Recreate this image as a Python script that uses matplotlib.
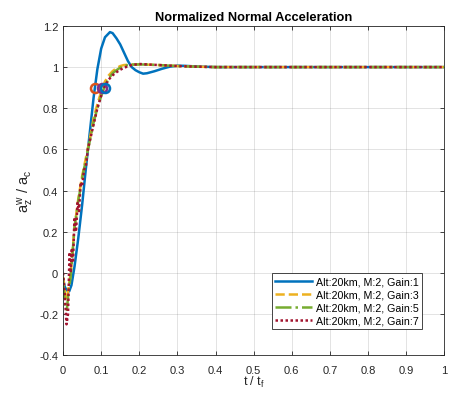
import matplotlib.pyplot as plt

plt.rcParams['font.family'] = ['Liberation Sans', 'DejaVu Sans']
plt.rcParams['mathtext.default'] = 'regular'

# Gain 1
t_g1 = [0, 0.005, 0.01, 0.016, 0.022, 0.03, 0.04, 0.05, 0.06, 0.07, 0.08, 0.09, 0.1, 0.11,
        0.123, 0.13, 0.14, 0.15, 0.16, 0.17, 0.18, 0.19, 0.2, 0.21, 0.22, 0.24, 0.26, 0.28,
        0.3, 0.32, 0.35, 0.4, 0.5, 1.0]
y_g1 = [-0.03, -0.07, -0.085, -0.09, -0.06, 0.03, 0.17, 0.33, 0.51, 0.68, 0.85, 0.99, 1.09, 1.145,
        1.17, 1.165, 1.14, 1.11, 1.07, 1.03, 1.0, 0.985, 0.975, 0.968, 0.97, 0.98, 0.992, 1.002,
        1.007, 1.006, 1.003, 1.0, 1.0, 1.0]

# Gain 3
t_g3 = [0, 0.005, 0.01, 0.02, 0.03, 0.04, 0.05, 0.06, 0.07, 0.08, 0.09, 0.1, 0.11, 0.12, 0.13,
        0.14, 0.15, 0.16, 0.18, 0.2, 0.22, 0.25, 0.3, 0.35, 0.4, 0.5, 1.0]
y_g3 = [-0.02, -0.1, -0.13, 0.0, 0.22, 0.36, 0.47, 0.56, 0.65, 0.75, 0.82, 0.88, 0.93, 0.96, 0.98,
        0.995, 1.005, 1.01, 1.012, 1.013, 1.012, 1.01, 1.005, 1.002, 1.0, 1.0, 1.0]

# Gain 5
t_g5 = [0, 0.005, 0.01, 0.015, 0.02, 0.03, 0.04, 0.05, 0.06, 0.07, 0.08, 0.09, 0.1, 0.11, 0.12,
        0.13, 0.14, 0.15, 0.16, 0.18, 0.2, 0.22, 0.25, 0.3, 0.35, 0.4, 0.5, 1.0]
y_g5 = [-0.05, -0.15, -0.18, -0.08, -0.02, 0.22, 0.35, 0.46, 0.55, 0.64, 0.73, 0.8, 0.86, 0.91,
        0.945, 0.97, 0.985, 0.997, 1.006, 1.012, 1.013, 1.012, 1.01, 1.005, 1.002, 1.0, 1.0, 1.0]

# Gain 7
t_g7 = [0, 0.005, 0.009, 0.013, 0.017, 0.02, 0.023, 0.026, 0.03, 0.034, 0.038, 0.042, 0.046, 0.05,
        0.055, 0.06, 0.065, 0.07, 0.075, 0.08, 0.085, 0.09, 0.1, 0.11, 0.12, 0.13, 0.14, 0.15,
        0.16, 0.18, 0.2, 0.22, 0.25, 0.3, 0.35, 0.4, 0.5, 1.0]
y_g7 = [0.0, -0.12, -0.25, -0.2, 0.1, 0.0, 0.12, 0.05, 0.27, 0.2, 0.34, 0.3, 0.44, 0.42,
        0.5, 0.52, 0.6, 0.64, 0.68, 0.72, 0.76, 0.8, 0.86, 0.91, 0.94, 0.96, 0.975, 0.987,
        0.997, 1.01, 1.015, 1.013, 1.01, 1.005, 1.002, 1.0, 1.0, 1.0]

# rise time markers (90%)
rise_t = [0.083, 0.103, 0.109]
rise_y = [0.9, 0.9, 0.9]
rise_c = ['#D95319', '#7E2F8E', '#0072BD']

labels = ['Alt:20km, M:2, Gain:1', 'Alt:20km, M:2, Gain:3',
          'Alt:20km, M:2, Gain:5', 'Alt:20km, M:2, Gain:7']

fig = plt.figure(figsize=(4.57, 4.02), dpi=100)
ax = fig.add_axes([0.138, 0.114, 0.834, 0.819])

lw = 1.8
ax.plot(t_g1, y_g1, '-', color='#0072BD', lw=lw, label=labels[0])
ax.plot(t_g3, y_g3, '--', color='#EDB120', lw=lw, label=labels[1])
ax.plot(t_g5, y_g5, '-.', color='#77AC30', lw=lw, label=labels[2])
ax.plot(t_g7, y_g7, linestyle=(0, (1, 1)), color='#A2142F', lw=lw, label=labels[3])
for t, y, c in zip(rise_t, rise_y, rise_c):
    ax.plot(t, y, 'o', mfc='none', mec=c, mew=1.8, ms=6.5)

ax.set_xlim(0, 1)
ax.set_ylim(-0.4, 1.2)
ax.set_xticks([i / 10 for i in range(11)])
ax.set_xticklabels(['0', '0.1', '0.2', '0.3', '0.4', '0.5', '0.6', '0.7', '0.8', '0.9', '1'])
ax.set_yticks([-0.4, -0.2, 0, 0.2, 0.4, 0.6, 0.8, 1.0, 1.2])
ax.set_yticklabels(['-0.4', '-0.2', '0', '0.2', '0.4', '0.6', '0.8', '1', '1.2'])
ax.grid(True, color='#262626', alpha=0.15, lw=0.6)
ax.tick_params(direction='in', length=3, width=0.6, top=True, right=True,
               labelsize=8, colors='#262626')
ax.tick_params(axis='x', pad=7)
for s in ax.spines.values():
    s.set_color('#262626')
    s.set_linewidth(0.6)

ax.set_title('Normalized Normal Acceleration', fontsize=9.3, fontweight='bold', pad=4)
ax.set_xlabel('t / t$_f$', fontsize=9, color='#262626', labelpad=-1)
ax.set_ylabel('a$_z^w$ / a$_c$', fontsize=10.5, color='#262626', labelpad=2)

leg = ax.legend(loc='lower right', bbox_to_anchor=(0.942, 0.079), fontsize=7.7, fancybox=False,
                edgecolor='#262626', framealpha=1, handlelength=3.45, borderpad=0.3,
                labelspacing=0.3, handletextpad=0.4, borderaxespad=0)
leg.get_frame().set_linewidth(0.6)

fig.savefig('out.png', dpi=100)
